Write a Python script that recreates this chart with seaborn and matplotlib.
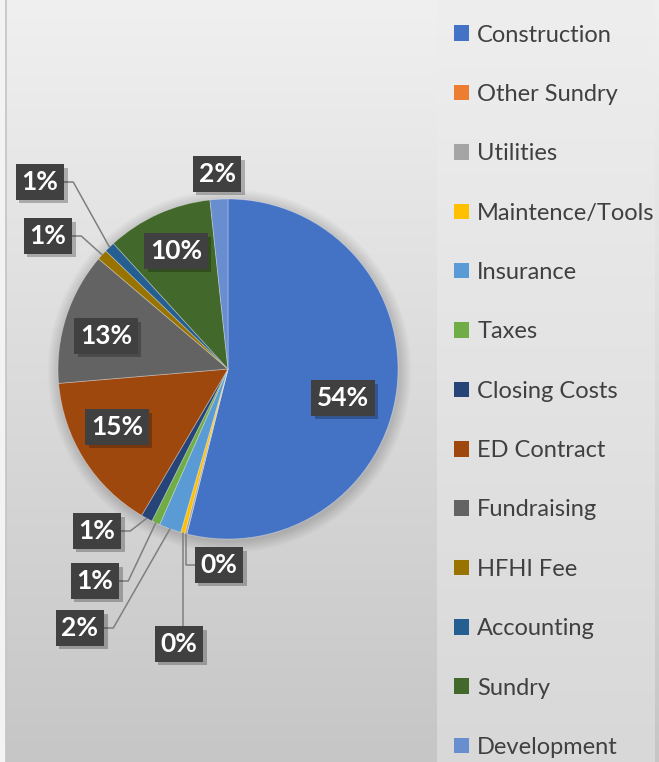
import numpy as np
import pandas as pd
import seaborn as sns
import matplotlib
matplotlib.use("Agg")
import matplotlib.pyplot as plt
from matplotlib import patheffects as pe
from matplotlib.patches import Circle

# ---------------- data ----------------
categories = ["Construction", "Other Sundry", "Utilities", "Maintence/Tools",
              "Insurance", "Taxes", "Closing Costs", "ED Contract",
              "Fundraising", "HFHI Fee", "Accounting", "Sundry", "Development"]
shares = [54.0, 0.0, 0.2, 0.4, 2.1, 0.8, 1.1, 15.2, 12.6, 1.0, 1.0, 10.1, 1.7]
colors = ["#4472C4", "#ED7D31", "#A5A5A5", "#FFC000", "#5B9BD5", "#70AD47",
          "#264478", "#9E480E", "#636363", "#997300", "#255E91", "#43682B",
          "#698ED0"]

df = pd.DataFrame({"category": categories, "share": shares})
df["pct"] = df["share"] / df["share"].sum() * 100

# ---------------- style ----------------
sns.set_theme(style="white")
plt.rcParams["font.family"] = ["Lato", "DejaVu Sans"]
palette = sns.color_palette(colors)

W, H = 659, 762
fig = plt.figure(figsize=(W / 100, H / 100), dpi=100)
fig.patch.set_facecolor("#f3f3f3")


def py(y):
    """convert image-style y (from top) to axes y (from bottom)"""
    return H - y


# background axes with gradients
bg = fig.add_axes([0, 0, 1, 1], zorder=0)
bg.set_xlim(0, W)
bg.set_ylim(0, H)
bg.axis("off")
grad = np.linspace(0, 1, 256)[:, None]
plot_grad = (240 - 42 * grad) / 255.0
bg.imshow(np.dstack([plot_grad] * 3), extent=(6, W, 0, H), origin="upper",
          aspect="auto", interpolation="bicubic")
leg_grad = (238 - 22 * grad) / 255.0
bg.imshow(np.dstack([leg_grad] * 3), extent=(437, 655, 0, H), origin="upper",
          aspect="auto", interpolation="bicubic")
bg.plot([5.5, 5.5], [0, H], color="#c4c4c4", lw=1.2)
bg.set_xlim(0, W)
bg.set_ylim(0, H)

# main axes, 1 data unit = 1 pixel
ax = fig.add_axes([0, 0, 1, 1], zorder=1)
ax.patch.set_alpha(0)
cx, cy, R = 228, py(369), 170

# soft shadow around pie
for i in range(12):
    ax.add_patch(Circle((cx + 1.5, cy - 2), R + 1 + i * 1.0, facecolor="black",
                        alpha=0.012, edgecolor="none", zorder=0))

wedges, _ = ax.pie(df["share"], colors=palette, startangle=90,
                   counterclock=False, center=(cx, cy), radius=R,
                   wedgeprops=dict(linewidth=0.6, edgecolor=(1, 1, 1, 0.35)))
ax.set_xlim(0, W)
ax.set_ylim(0, H)
ax.set_aspect("auto")
ax.axis("off")

# ---------------- data labels (layout) ----------------
label_layout = {
    "Construction": (343, 398),
    "Utilities": (219, 565),
    "Maintence/Tools": (179, 644),
    "Insurance": (80, 628),
    "Taxes": (95, 581),
    "Closing Costs": (97, 531),
    "ED Contract": (117, 427),
    "Fundraising": (106, 336),
    "HFHI Fee": (48, 236),
    "Accounting": (40, 182),
    "Sundry": (176, 251),
    "Development": (217, 174),
}
leader_cats = {"Utilities", "Maintence/Tools", "Insurance", "Taxes",
               "Closing Costs", "HFHI Fee", "Accounting"}

texts = {}
for i, row in df.iterrows():
    cat = row["category"]
    if cat not in label_layout:
        continue
    x, y = label_layout[cat]
    t = ax.text(x, py(y), f"{row['pct']:.0f}%", ha="center", va="center",
                color="white", fontsize=19, fontweight="bold",
                family=["Lato", "DejaVu Sans"], zorder=5,
                bbox=dict(boxstyle="square,pad=0.22", facecolor="#404040",
                          edgecolor="none"))
    t.get_bbox_patch().set_path_effects(
        [pe.SimplePatchShadow(offset=(2.5, -2.5), shadow_rgbFace="black",
                              alpha=0.25), pe.Normal()])
    texts[cat] = (i, t)

fig.canvas.draw()
inv = ax.transData.inverted()
for cat, (i, t) in texts.items():
    if cat not in leader_cats:
        continue
    w = wedges[i]
    mid = np.deg2rad((w.theta1 + w.theta2) / 2)
    ex, ey = cx + R * np.cos(mid), cy + R * np.sin(mid)
    bb = t.get_bbox_patch().get_window_extent()
    (x0, y0), (x1, y1) = inv.transform([[bb.x0, bb.y0], [bb.x1, bb.y1]])
    ymid = (y0 + y1) / 2
    if x0 <= ex <= x1:
        pts = [(ex, y1), (ex, ey)]
    elif ex < x0:
        pts = [(x0, ymid), (ex, ymid), (ex, ey)]
    else:
        pts = [(x1, ymid), (x1 + 9, ymid), (ex, ey)]
    xs, ys = zip(*pts)
    ax.plot(xs, ys, color="#7f7f7f", lw=1.1, zorder=4)

# ---------------- legend ----------------
leg = fig.legend(wedges, categories, loc="upper left",
                 bbox_to_anchor=(454 / W, 1 - 24.5 / H), frameon=False,
                 fontsize=17, labelcolor="#404040", handlelength=0.64,
                 handleheight=0.64, handletextpad=0.34, labelspacing=1.625,
                 borderpad=0, borderaxespad=0)
for h in leg.legend_handles:
    h.set_edgecolor("none")

fig.savefig("out.png", dpi=100, facecolor=fig.get_facecolor())
